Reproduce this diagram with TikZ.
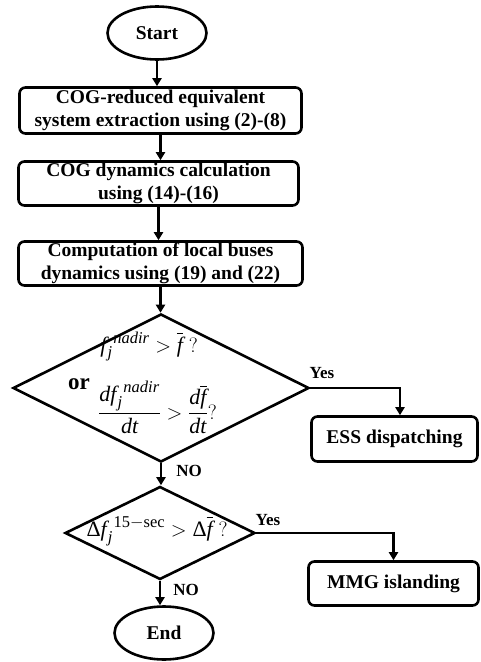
\documentclass[tikz,border=0pt]{standalone}
\usepackage{amsmath}
\usepackage{fontspec}
\setmainfont{Liberation Serif}
\usetikzlibrary{shapes.geometric,arrows.meta}
\DeclareMathSizes{22}{22}{16.5}{12}
\newcommand{\myit}[1]{\mathit{#1}}
\newcommand{\myrm}[1]{\mathrm{#1}}
\newcommand{\fbarx}{\overline{\myit{f}}}
\newcommand{\fk}{{\myit{f}\mkern1mu}}
\begin{document}
\begin{tikzpicture}[x=1pt,y=-1pt,
  every node/.style={font=\fontsize{19.5}{23}\selectfont\bfseries},
  proc/.style={draw, line width=2.6pt, rounded corners=6pt, inner sep=0pt, align=center},
  term/.style={draw, ellipse, line width=2.6pt, inner sep=0pt},
  dec/.style={draw, diamond, line width=2.6pt, inner sep=0pt},
  conn/.style={line width=2.4pt, -{Triangle[length=8pt,width=9pt]}},
  mtxt/.style={font=\fontsize{22}{25}\selectfont, inner sep=0pt, anchor=base},
  lbl/.style={font=\fontsize{17}{20}\selectfont\bfseries, inner sep=0pt}]
\useasboundingbox (0,0) rectangle (481,662);
\node[term, minimum width=99pt, minimum height=53pt] (start) at (157,33) {Start};
\node[proc, minimum width=282pt, minimum height=46pt] (b1) at (160.5,110.5) {COG-reduced equivalent\\system extraction using (2)-(8)};
\node[proc, minimum width=280pt, minimum height=44pt] (b2) at (158.5,183.5) {COG dynamics calculation\\using (14)-(16)};
\node[proc, minimum width=284pt, minimum height=44pt] (b3) at (160.5,263.5) {Computation of local buses\\dynamics using (19) and (22)};
\node[dec, minimum width=296pt, minimum height=148pt] (d1) at (161,388) {};
\node[mtxt] (m1) at (149,352) {$\fk_{\myit{j}}^{\mkern6mu\myit{nadir}} > \fbarx\;\myrm{?}$};
\node[font=\fontsize{23}{26}\selectfont\bfseries, inner sep=0pt] (or) at (79,384) {or};
\node[mtxt] (m2) at (157.5,419) {$\dfrac{\myit{d}\fk_{\myit{j}}^{\mkern6mu\myit{nadir}}}{\myit{dt}} > \dfrac{\myit{d}\fbarx}{\myit{dt}}\myrm{?}$};
\node[proc, minimum width=166pt, minimum height=45pt] (ess) at (394.5,439) {ESS dispatching};
\node[dec, minimum width=190pt, minimum height=93pt] (d2) at (160,533) {};
\node[mtxt] (m3) at (157,536) {$\myrm{Δ}\fk_{\myit{j}}^{\mkern6mu\myrm{15}-\myrm{sec}} > \myrm{Δ}\fbarx\;\myrm{?}$};
\node[proc, minimum width=170pt, minimum height=44pt] (mmg) at (393.5,583.5) {MMG islanding};
\node[term, minimum width=99pt, minimum height=53pt] (end) at (164,633) {End};
\draw[conn] (start.south) -- (start.south |- b1.north);
\draw[conn] (b1.south) -- (b1.south |- b2.north);
\draw[conn] (b2.south) -- (b2.south |- b3.north);
\draw[conn] (b3.south) -- (b3.south |- d1.north);
\draw[conn] (d1.east) -| ([xshift=5.5pt]ess.north);
\draw[conn] (d1.south) -- (d1.south |- d2.north);
\draw[conn] (d2.east) -| (mmg.north);
\draw[conn] (d2.south) -- (d2.south |- end.north);
\node[lbl] (y1) at (322,373) {Yes};
\node[lbl] (n1) at (189,471) {NO};
\node[lbl] (y2) at (268,520) {Yes};
\node[lbl] (n2) at (186,590) {NO};
\end{tikzpicture}
\end{document}
